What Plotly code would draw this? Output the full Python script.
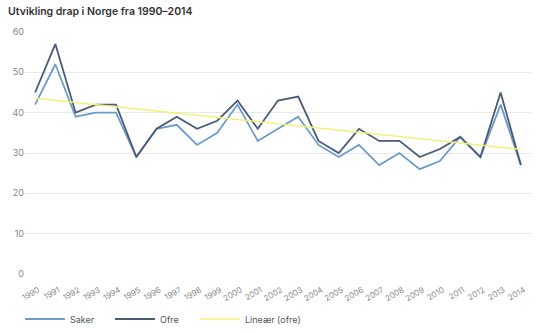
import plotly.graph_objects as go

years = list(range(1990, 2015))
saker = [42, 52, 39, 40, 40, 29, 36, 37, 32, 35, 42, 33, 36, 39, 32, 29, 32, 27, 30, 26, 28, 34, 29, 42, 27]
ofre = [45, 57, 40, 42, 42, 29, 36, 39, 36, 38, 43, 36, 43, 44, 33, 30, 36, 33, 33, 29, 31, 34, 29, 45, 27]
trend_years = [1990, 2014]
trend_vals = [43.6, 30.9]
y_ticks = [0, 10, 20, 30, 40, 50, 60]

FONT = "Inter"

fig = go.Figure()
fig.add_trace(go.Scatter(x=years, y=saker, mode="lines", name="Saker", legend="legend",
                         line=dict(color="#6b9ccc", width=1.8)))
fig.add_trace(go.Scatter(x=years, y=ofre, mode="lines", name="Ofre", legend="legend2",
                         line=dict(color="#4a5a78", width=1.8)))
fig.add_trace(go.Scatter(x=trend_years, y=trend_vals, mode="lines", name="Lineær (ofre)",
                         legend="legend3", line=dict(color="#f2f27a", width=1.5)))

leg_common = dict(orientation="h", xanchor="left", yref="container", y=0.042,
                  yanchor="middle", font=dict(size=9, color="#555555"), itemwidth=40,
                  bgcolor="rgba(0,0,0,0)")

fig.update_layout(
    width=540, height=333,
    margin=dict(l=25, r=9, t=32, b=59, autoexpand=False),
    paper_bgcolor="white", plot_bgcolor="white",
    font=dict(family=FONT, color="#888888", size=9),
    title=dict(text="Utvikling drap i Norge fra 1990–2014", x=0.015, xanchor="left",
               y=0.965, yanchor="middle",
               font=dict(family=FONT, size=10.5, color="#333333", weight=600)),
    xaxis=dict(range=[1989.5, 2014.5], tickvals=years, ticktext=[str(y) for y in years],
               tickangle=-30, showgrid=False, zeroline=False, showline=False,
               automargin=False, ticks="", ticklabelstandoff=9, ticklabelshift=3,
               tickfont=dict(size=8, color="#888888")),
    yaxis=dict(range=[0, 60], tickvals=y_ticks, showgrid=True, gridcolor="#e8e8e8",
               gridwidth=1, zeroline=False, showline=False, ticks="", automargin=False,
               tickfont=dict(size=9, color="#888888")),
    legend=dict(x=-0.01, **leg_common),
    legend2=dict(x=0.168, **leg_common),
    legend3=dict(x=0.336, **leg_common),
    showlegend=True,
)

fig.write_html("out.html")
